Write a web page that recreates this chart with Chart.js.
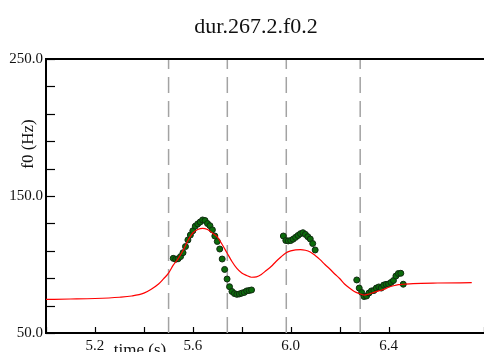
<!DOCTYPE html>
<html>
<head>
<meta charset="utf-8">
<script src="https://cdn.jsdelivr.net/npm/chart.js@4"></script>
<style>
  body { margin: 0; background: #fff; }
  #wrap { width: 484px; height: 352px; }
</style>
</head>
<body>
<div id="wrap"><canvas id="grafico" width="484" height="352"></canvas></div>
<script>
const tituloGrafico = 'dur.267.2.f0.2'
const tituloX = 'time (s)'
const tituloY = 'f0 (Hz)'

// etiquetas visibles de los ejes
const etiquetasX = ['5.2', '5.6', '6.0', '6.4']
const etiquetasY = ['50.0', '150.0', '250.0']

// limites de segmentos (lineas punteadas)
const limites = [5.501, 5.741, 5.982, 6.284]

// puntos medidos de f0 (verde)
const tiemposPuntos = [
  5.52, 5.53, 5.54, 5.55, 5.56, 5.57, 5.58, 5.59, 5.60, 5.61, 5.62, 5.63, 5.64, 5.65, 5.66, 5.67,
  5.68, 5.69, 5.70, 5.71, 5.72, 5.73, 5.74, 5.75, 5.76, 5.77, 5.78, 5.79, 5.80, 5.81, 5.82, 5.83, 5.84,
  5.97, 5.98, 5.99, 6.00, 6.01, 6.02, 6.03, 6.04, 6.05, 6.06, 6.07, 6.08, 6.09, 6.10,
  6.27, 6.28, 6.29, 6.30, 6.31, 6.32, 6.33, 6.34, 6.35, 6.36, 6.37, 6.38, 6.39, 6.40, 6.41, 6.42,
  6.43, 6.44, 6.45, 6.46
]
const valoresPuntos = [
  104.5, 103.8, 104.2, 105.8, 108.6, 113.1, 117.9, 121.5, 124.6, 128.0, 129.6, 131.0, 132.5, 132.1, 129.9, 128.3,
  125.3, 120.8, 116.8, 111.3, 104.0, 96.4, 89.4, 83.8, 80.3, 78.8, 78.2, 78.5, 79.1, 79.6, 80.7, 81.0, 81.4,
  120.8, 117.5, 117.2, 117.5, 118.5, 119.8, 121.2, 122.5, 123.2, 122.0, 120.3, 118.6, 115.3, 110.6,
  88.7, 82.8, 79.6, 76.6, 77.0, 79.2, 80.7, 81.0, 82.8, 83.6, 82.8, 85.0, 85.5, 85.8, 86.9, 88.3,
  91.6, 93.4, 93.6, 85.6
]

// curva modelada (roja)
const tiemposCurva = [
  5.00, 5.10, 5.20, 5.30, 5.35, 5.40, 5.43, 5.46, 5.48, 5.50, 5.52, 5.54, 5.56, 5.58, 5.60, 5.62,
  5.64, 5.66, 5.68, 5.70, 5.72, 5.74, 5.76, 5.78, 5.80, 5.82, 5.84, 5.86, 5.88, 5.90, 5.92, 5.94,
  5.96, 5.98, 6.00, 6.02, 6.04, 6.06, 6.08, 6.10, 6.12, 6.14, 6.16, 6.18, 6.20, 6.22, 6.24, 6.26,
  6.28, 6.30, 6.32, 6.34, 6.36, 6.38, 6.40, 6.42, 6.44, 6.46, 6.50, 6.60, 6.74
]
const valoresCurva = [
  74.5, 74.8, 75.2, 76.1, 77.0, 79.1, 82.0, 85.8, 89.5, 93.5, 99.5, 104.3, 110.2, 117.5, 123.0, 125.5,
  126.4, 125.5, 123.0, 120.1, 114.6, 108.4, 102.2, 97.1, 93.8, 92.0, 90.7, 91.0, 92.7, 95.6, 98.5, 102.2,
  105.5, 108.4, 109.9, 110.7, 110.9, 110.4, 109.1, 106.6, 103.6, 100.0, 96.7, 93.1, 89.8, 85.8, 82.8, 80.3,
  78.8, 77.7, 78.5, 79.6, 80.7, 81.8, 83.4, 84.5, 85.3, 85.6, 86.1, 86.5, 86.7
]

const fuente = "'Liberation Serif', 'Times New Roman', serif"

const datasetsLimites = limites.map(t => ({
  data: [{ x: t, y: 50 }, { x: t, y: 250 }],
  borderColor: '#a3a3a3',
  borderWidth: 1.5,
  borderDash: [16, 8],
  pointRadius: 0,
  showLine: true,
  order: 3
}))

const marcasInternas = {
  id: 'marcasInternas',
  afterDraw(chart) {
    const ctx = chart.ctx
    const area = chart.chartArea
    const sx = chart.scales.x
    const sy = chart.scales.y
    ctx.save()
    ctx.strokeStyle = '#000'
    ctx.lineWidth = 1.2
    sy.ticks.forEach(t => {
      const y = Math.round(sy.getPixelForValue(t.value)) + 0.5
      ctx.beginPath()
      ctx.moveTo(area.left, y)
      ctx.lineTo(area.left + 9, y)
      ctx.stroke()
    })
    sx.ticks.forEach(t => {
      const x = Math.round(sx.getPixelForValue(t.value)) + 0.5
      ctx.beginPath()
      ctx.moveTo(x, area.bottom)
      ctx.lineTo(x, area.bottom - 6)
      ctx.stroke()
    })
    // borde superior
    ctx.lineWidth = 2
    ctx.beginPath()
    ctx.moveTo(area.left, area.top)
    ctx.lineTo(area.right, area.top)
    ctx.stroke()

    ctx.fillStyle = '#111'
    ctx.font = '22px ' + fuente
    ctx.textAlign = 'center'
    ctx.textBaseline = 'alphabetic'
    ctx.fillText(tituloGrafico, 256, 33)

    ctx.font = '17px ' + fuente
    ctx.fillText(tituloX, 140, 355)

    ctx.translate(33, 144)
    ctx.rotate(-Math.PI / 2)
    ctx.fillText(tituloY, 0, 0)
    ctx.restore()
  }
}

const ctx = document.getElementById('grafico')

new Chart(ctx, {
  type: 'scatter',
  data: {
    datasets: [
      {
        data: tiemposCurva.map((t, i) => ({ x: t, y: valoresCurva[i] })),
        showLine: true,
        borderColor: '#ff0000',
        borderWidth: 1.2,
        pointRadius: 0,
        cubicInterpolationMode: 'monotone',
        order: 1
      },
      {
        data: tiemposPuntos.map((t, i) => ({ x: t, y: valoresPuntos[i] })),
        showLine: false,
        backgroundColor: '#0b6b0b',
        borderColor: '#102a10',
        borderWidth: 1,
        pointRadius: 3,
        order: 2
      },
      ...datasetsLimites
    ]
  },
  options: {
    responsive: false,
    animation: false,
    layout: { autoPadding: false, padding: { top: 59, left: 0, right: 0, bottom: 0 } },
    plugins: {
      legend: { display: false },
      tooltip: { enabled: false },
      title: { display: false }
    },
    scales: {
      x: {
        type: 'linear',
        min: 5.0,
        max: 6.79,
        afterFit: s => { s.height = 19; s.paddingLeft = 0; s.paddingRight = 0 },
        grid: { display: false, drawTicks: false },
        border: { display: true, color: '#000', width: 2 },
        ticks: {
          stepSize: 0.2,
          padding: 4,
          color: '#111',
          font: { family: fuente, size: 15 },
          maxRotation: 0,
          autoSkip: false,
          callback: v => {
            const s = (Math.round(v * 10) / 10).toFixed(1)
            return etiquetasX.includes(s) ? s : ''
          }
        }
      },
      y: {
        min: 50,
        max: 250,
        afterFit: s => { s.width = 46; s.paddingTop = 0; s.paddingBottom = 0 },
        grid: { display: false, drawTicks: false },
        border: { display: true, color: '#000', width: 2 },
        ticks: {
          stepSize: 20,
          padding: 3,
          color: '#111',
          font: { family: fuente, size: 15 },
          autoSkip: false,
          callback: v => {
            const s = Number(v).toFixed(1)
            return etiquetasY.includes(s) ? s : ''
          }
        }
      }
    }
  },
  plugins: [marcasInternas]
})
</script>
</body>
</html>
